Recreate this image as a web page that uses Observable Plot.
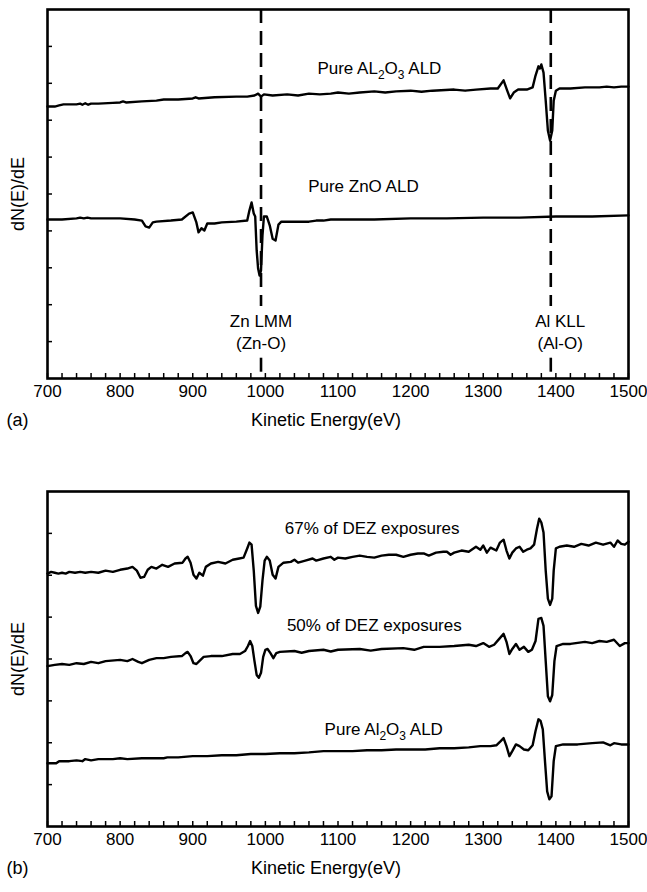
<!DOCTYPE html>
<html><head><meta charset="utf-8">
<script src="https://cdn.jsdelivr.net/npm/d3@7"></script>
<script src="https://cdn.jsdelivr.net/npm/@observablehq/plot@0.6"></script>
<style>
body{margin:0;background:#fff;font-family:"Liberation Sans",Arial,Helvetica,sans-serif}
#chart svg{display:block}
</style>
</head><body><div id="chart"></div>
<script>
// ---- Data (energy eV, dN(E)/dE in arbitrary units) ----
const xTickLabels = [700, 800, 900, 1000, 1100, 1200, 1300, 1400, 1500];
const markerEnergies = [994, 1393];
const markerLabels = [["Zn LMM", "(Zn-O)"], ["Al KLL", "(Al-O)"]];
const markerLabelX = [994, 1406];

const aAl2O3 = [[700,7.37],[710,7.37],[716,7.40],[722,7.43],[740,7.43],[745,7.45],[748,7.42],[752,7.46],[756,7.42],[760,7.45],[770,7.45],[790,7.47],[800,7.48],[804,7.51],[808,7.48],[830,7.51],[850,7.53],[860,7.56],[880,7.56],[900,7.59],[904,7.62],[908,7.59],[930,7.62],[960,7.64],[975,7.64],[985,7.67],[990,7.72],[994,7.64],[998,7.70],[1010,7.67],[1030,7.70],[1045,7.67],[1060,7.72],[1075,7.70],[1090,7.72],[1100,7.75],[1115,7.72],[1130,7.75],[1150,7.78],[1165,7.75],[1180,7.78],[1200,7.80],[1215,7.77],[1230,7.80],[1260,7.83],[1275,7.80],[1290,7.83],[1310,7.86],[1320,7.86],[1328,8.08],[1333,7.80],[1337,7.59],[1342,7.75],[1348,7.83],[1360,7.83],[1368,7.89],[1372,8.21],[1376,8.46],[1378,8.40],[1380,8.51],[1383,8.29],[1386,7.53],[1389,6.72],[1392,6.45],[1395,6.72],[1397,7.53],[1400,7.80],[1405,7.86],[1420,7.86],[1440,7.89],[1460,7.89],[1470,7.91],[1480,7.89],[1490,7.91],[1500,7.91]];

const aZnO = [[700,4.31],[720,4.31],[740,4.34],[745,4.36],[750,4.34],[755,4.36],[760,4.34],[780,4.34],[800,4.34],[820,4.31],[830,4.28],[835,4.12],[840,4.09],[845,4.23],[850,4.25],[870,4.28],[885,4.31],[895,4.47],[900,4.50],[905,4.23],[908,3.96],[912,4.07],[916,4.01],[920,4.20],[930,4.20],[940,4.23],[960,4.25],[975,4.28],[978,4.55],[981,4.77],[984,4.47],[986,4.39],[988,3.47],[990,2.98],[992,2.79],[994,2.93],[996,3.88],[998,4.39],[1002,4.39],[1006,4.15],[1010,3.79],[1014,3.74],[1018,4.17],[1022,4.25],[1060,4.25],[1070,4.28],[1080,4.28],[1090,4.31],[1100,4.31],[1150,4.31],[1200,4.34],[1250,4.34],[1300,4.36],[1350,4.36],[1400,4.39],[1450,4.39],[1500,4.42]];

const b67 = [[700,6.04],[705,6.08],[710,6.06],[715,6.04],[720,6.06],[725,6.04],[730,6.08],[738,6.06],[745,6.08],[752,6.06],[760,6.08],[770,6.06],[780,6.11],[790,6.08],[800,6.13],[810,6.16],[817,6.20],[823,6.11],[828,5.94],[833,5.96],[838,6.13],[843,6.20],[850,6.16],[858,6.25],[866,6.20],[875,6.28],[886,6.30],[890,6.40],[893,6.44],[897,6.30],[901,6.01],[905,5.92],[909,6.06],[914,5.99],[918,6.20],[925,6.28],[935,6.32],[945,6.28],[955,6.37],[964,6.40],[970,6.42],[975,6.64],[978,6.78],[981,6.73],[984,6.11],[987,5.27],[990,5.10],[993,5.25],[996,5.87],[999,6.35],[1002,6.44],[1006,6.35],[1010,6.01],[1014,5.92],[1018,6.20],[1025,6.30],[1035,6.32],[1040,6.37],[1045,6.30],[1055,6.35],[1065,6.40],[1070,6.35],[1080,6.40],[1090,6.44],[1095,6.37],[1100,6.42],[1110,6.40],[1120,6.44],[1130,6.47],[1140,6.44],[1150,6.42],[1160,6.47],[1170,6.49],[1180,6.49],[1190,6.44],[1200,6.49],[1210,6.52],[1218,6.52],[1225,6.47],[1235,6.54],[1245,6.56],[1250,6.56],[1255,6.49],[1260,6.54],[1270,6.59],[1280,6.56],[1290,6.68],[1296,6.61],[1300,6.71],[1305,6.54],[1310,6.66],[1318,6.59],[1323,6.78],[1328,6.85],[1332,6.59],[1336,6.40],[1340,6.54],[1345,6.64],[1350,6.68],[1355,6.56],[1360,6.61],[1365,6.64],[1370,6.73],[1374,7.11],[1377,7.35],[1380,7.26],[1383,7.02],[1386,6.11],[1389,5.44],[1392,5.29],[1395,5.44],[1397,6.11],[1400,6.64],[1405,6.68],[1415,6.71],[1425,6.68],[1435,6.75],[1445,6.71],[1455,6.78],[1465,6.73],[1475,6.78],[1480,6.68],[1485,6.83],[1490,6.75],[1495,6.73],[1500,6.80]];

const b50 = [[700,3.83],[710,3.86],[720,3.88],[730,3.86],[740,3.90],[750,3.88],[760,3.93],[770,3.90],[780,3.95],[800,3.98],[810,3.95],[817,4.00],[825,3.93],[830,3.90],[840,3.98],[850,4.02],[860,4.02],[870,4.05],[885,4.07],[890,4.14],[893,4.17],[897,4.07],[901,3.90],[905,3.88],[909,3.95],[915,4.05],[925,4.07],[940,4.07],[955,4.12],[965,4.12],[972,4.19],[976,4.31],[979,4.43],[982,4.31],[985,3.95],[988,3.62],[991,3.55],[994,3.67],[997,4.05],[1000,4.22],[1003,4.24],[1007,4.14],[1011,4.02],[1015,4.14],[1020,4.17],[1040,4.19],[1050,4.15],[1060,4.19],[1080,4.22],[1090,4.18],[1100,4.22],[1130,4.24],[1145,4.20],[1160,4.24],[1190,4.26],[1205,4.22],[1218,4.29],[1240,4.29],[1260,4.31],[1280,4.34],[1290,4.31],[1300,4.38],[1308,4.29],[1315,4.34],[1322,4.48],[1328,4.60],[1332,4.41],[1336,4.12],[1340,4.24],[1345,4.36],[1350,4.22],[1356,4.29],[1362,4.17],[1367,4.22],[1372,4.43],[1376,4.96],[1380,4.98],[1383,4.79],[1386,3.95],[1389,3.11],[1392,2.99],[1395,3.14],[1398,3.95],[1401,4.31],[1410,4.36],[1420,4.36],[1440,4.41],[1450,4.38],[1460,4.43],[1470,4.41],[1480,4.46],[1488,4.31],[1495,4.38],[1500,4.38]];

const bAl2O3 = [[700,1.51],[712,1.51],[716,1.56],[730,1.56],[740,1.58],[748,1.56],[752,1.61],[760,1.58],[770,1.61],[790,1.61],[800,1.63],[810,1.61],[830,1.63],[850,1.63],[860,1.63],[865,1.65],[880,1.65],[900,1.68],[920,1.68],[940,1.70],[960,1.70],[980,1.73],[1000,1.73],[1020,1.75],[1040,1.75],[1060,1.77],[1080,1.80],[1100,1.80],[1120,1.80],[1140,1.82],[1160,1.82],[1180,1.84],[1200,1.84],[1220,1.84],[1240,1.87],[1260,1.87],[1280,1.89],[1296,1.92],[1310,1.92],[1318,1.94],[1324,2.04],[1328,2.11],[1332,1.92],[1336,1.68],[1340,1.80],[1345,1.96],[1350,1.92],[1356,1.84],[1362,1.82],[1368,1.94],[1372,2.28],[1376,2.56],[1379,2.52],[1382,2.32],[1385,1.56],[1388,0.84],[1391,0.65],[1394,0.72],[1397,1.56],[1400,1.92],[1410,1.96],[1430,1.96],[1450,1.99],[1465,2.01],[1475,1.94],[1480,1.99],[1490,1.96],[1500,1.96]];

const annotationsA = [
  {text: "Pure AL2O3 ALD", x: 1157, y: 8.40},
  {text: "Pure ZnO ALD", x: 1135, y: 5.2}
];
const annotationsB = [
  {text: "67% of DEZ exposures", x: 1147, y: 7.11},
  {text: "50% of DEZ exposures", x: 1150, y: 4.79},
  {text: "Pure Al2O3 ALD", x: 1163, y: 2.32}
];

// ---- Drawing ----
const FONT = '"Liberation Sans", Arial, Helvetica, sans-serif';
const W = 647, ML = 47, MR = 19;
const minorTicks = d3.range(700, 1501, 20);

function panel({height, marginTop, marginBottom, yMax, series, annotations, tag, markers}) {
  const marks = [
    Plot.axisX({ticks: minorTicks, tickSize: 5, dy: -5, tickFormat: () => "", label: null, strokeWidth: 1.5}),
    Plot.axisX({ticks: xTickLabels, tickSize: 0, tickPadding: 6, tickFormat: d => String(d), label: null, fontSize: 17}),
    Plot.axisY({ticks: d3.range(1, yMax), tickSize: 5, dx: 5, tickFormat: () => "", label: null, strokeWidth: 1.5})
  ];
  if (markers) {
    // dashed marker lines, interrupted where the peak labels sit
    marks.push(Plot.ruleX(markerEnergies, {y1: yMax, y2: 1.95, stroke: "black", strokeWidth: 2.6, strokeDasharray: "14,8"}));
    marks.push(Plot.ruleX(markerEnergies, {y1: 0.55, y2: 0, stroke: "black", strokeWidth: 2.6, strokeDasharray: "14,8"}));
    markerLabels.forEach((lines, i) => {
      marks.push(Plot.text([lines[0]], {x: () => markerLabelX[i], y: () => 1.55, fontSize: 17, fill: "black"}));
      marks.push(Plot.text([lines[1]], {x: () => markerLabelX[i], y: () => 0.95, fontSize: 17, fill: "black"}));
    });
  }
  for (const s of series) {
    marks.push(Plot.line(s, {x: d => d[0], y: d => d[1], stroke: "black", strokeWidth: 2.4, strokeLinejoin: "round"}));
  }
  marks.push(Plot.text(annotations, {x: "x", y: "y", text: "text", fontSize: 17, fill: "black"}));
  marks.push(Plot.frame({stroke: "black", strokeWidth: 2.6}));
  marks.push(Plot.text(["dN(E)/dE"], {frameAnchor: "left", textAnchor: "middle", dx: -29, rotate: -90, fontSize: 18, fill: "black"}));
  marks.push(Plot.text(["Kinetic Energy(eV)"], {frameAnchor: "bottom", dx: -12, dy: 47, fontSize: 18, fill: "black"}));
  marks.push(Plot.text([tag], {frameAnchor: "bottom-left", dx: -41, dy: 47, textAnchor: "start", fontSize: 18, fill: "black"}));
  const svg = Plot.plot({
    width: W, height, marginLeft: ML, marginRight: MR, marginTop, marginBottom,
    x: {domain: [700, 1500]},
    y: {domain: [0, yMax]},
    style: {fontFamily: FONT, fontSize: "16px", color: "black", background: "white", overflow: "visible"},
    marks
  });
  // subscripts for Al2O3 / AL2O3
  const ns = "http://www.w3.org/2000/svg";
  svg.querySelectorAll("text").forEach(t => {
    const s = t.textContent;
    const m = s.match(/^(.*A[Ll])2O3(.*)$/);
    if (!m) return;
    while (t.firstChild) t.removeChild(t.firstChild);
    const parts = [[m[1], 0, null], ["2", 5, "12px"], ["O", -5, null], ["3", 5, "12px"], [m[2], -5, null]];
    for (const [txt, dy, fs] of parts) {
      const sp = document.createElementNS(ns, "tspan");
      sp.textContent = txt;
      if (dy) sp.setAttribute("dy", dy);
      if (fs) sp.setAttribute("font-size", fs);
      t.appendChild(sp);
    }
  });
  return svg;
}

const chart = document.getElementById("chart");
chart.appendChild(panel({height: 445, marginTop: 9, marginBottom: 67, yMax: 10, series: [aAl2O3, aZnO], annotations: annotationsA, tag: "(a)", markers: true}));
chart.appendChild(panel({height: 447, marginTop: 46, marginBottom: 66, yMax: 8, series: [b67, b50, bAl2O3], annotations: annotationsB, tag: "(b)", markers: false}));
</script>
</body></html>
